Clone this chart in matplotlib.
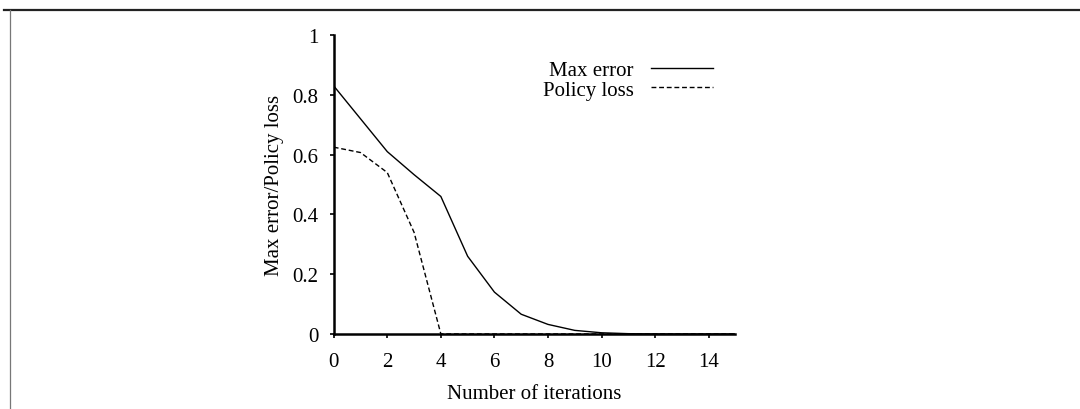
import numpy as np
import matplotlib.pyplot as plt
from matplotlib.lines import Line2D

plt.rcParams['font.family'] = ['Liberation Serif', 'DejaVu Serif']

iterations = list(range(16))
max_error = [0.83, 0.72, 0.61, 0.533, 0.46, 0.26, 0.14, 0.066, 0.032, 0.012,
             0.004, 0.001, 0.0, 0.0, 0.0, 0.0]
policy_loss = [0.625, 0.607, 0.54, 0.34, 0.0, 0.0, 0.0, 0.0, 0.0, 0.0,
               0.0, 0.0, 0.0, 0.0, 0.0, 0.0]

xticks = [0, 2, 4, 6, 8, 10, 12, 14]
yticks = [0, 0.2, 0.4, 0.6, 0.8, 1]
ytick_labels = ['0', '0.2', '0.4', '0.6', '0.8', '1']

fig = plt.figure(figsize=(10.8, 4.1), dpi=100)
ax = fig.add_axes([0.309, 0.183, 0.372, 0.729])

ax.plot(iterations, max_error, 'k-', lw=1.0, label='Max error')
ax.plot(iterations, policy_loss, 'k--', lw=1.0, dashes=(3.5, 2), label='Policy loss')

ax.set_xlim(0, 15)
ax.set_ylim(0, 1)
ax.set_xticks(xticks)
ax.set_yticks(yticks)
ax.set_yticklabels(ytick_labels)
ax.tick_params(direction='out', length=3, width=1.2, labelsize=15)
ax.tick_params(axis='x', pad=10)
ax.tick_params(axis='y', pad=8)

for side in ['top', 'right']:
    ax.spines[side].set_visible(False)
for side in ['left', 'bottom']:
    ax.spines[side].set_linewidth(1.8)

ax.set_xlabel('Number of iterations', fontsize=15, labelpad=9)
ax.set_ylabel('Max error/Policy loss', fontsize=15, labelpad=6)

ax.legend(loc='upper right', bbox_to_anchor=(0.97, 0.95), frameon=False,
          markerfirst=False, fontsize=15, handlelength=3.0, handletextpad=0.8,
          labelspacing=0.0, borderpad=0)

# page border from the scan
fig.add_artist(Line2D([0.004, 1.0], [0.973, 0.973], transform=fig.transFigure,
                      color='#222222', lw=1.6))
fig.add_artist(Line2D([0.009, 0.009], [0.0, 0.973], transform=fig.transFigure,
                      color='#777777', lw=0.9))

fig.savefig('out.png', dpi=100)
